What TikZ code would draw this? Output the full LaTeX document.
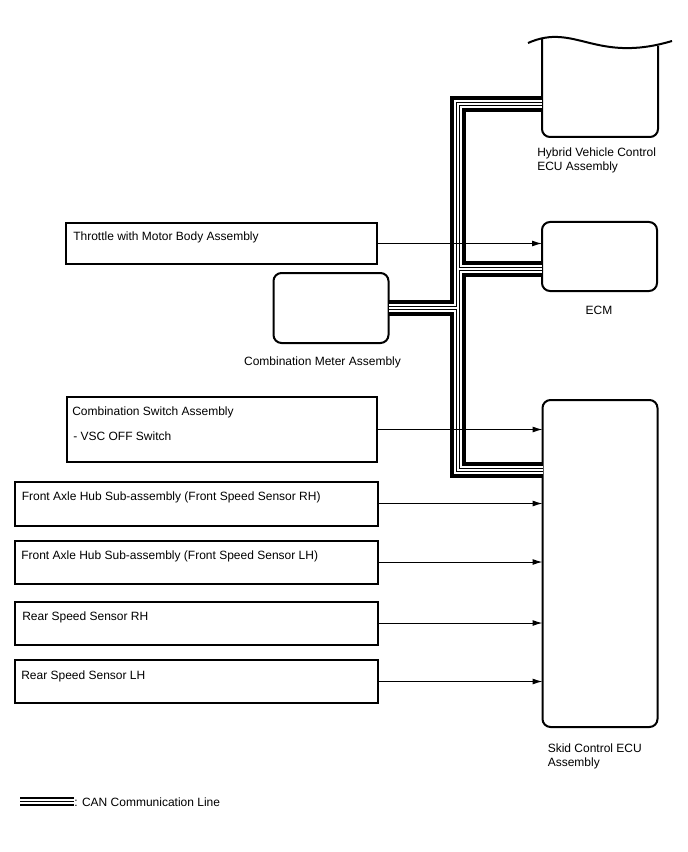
\documentclass[tikz,border=0pt]{standalone}
\usepackage{fontspec}
\setmainfont{Liberation Sans}
\usetikzlibrary{arrows.meta}

\tikzset{
  part/.style 2 args={draw, line width=1.5pt, minimum width=#1*0.75pt, minimum height=#2*0.75pt,
    inner sep=0pt, outer sep=0pt, anchor=north west},
  ecu/.style 2 args={part={#1}{#2}, rounded corners=6pt},
  txt/.style={font=\fontsize{9}{10.4}\selectfont, inner sep=0pt, anchor=base west},
  sig/.style={line width=0.75pt, -{Latex[length=7.5pt,width=4.5pt]}},
  canA/.style={line width=12pt},
  canB/.style={line width=6pt, white},
  canC/.style={line width=3.6pt},
  canD/.style={line width=1.6pt, white},
  keyA/.style={line width=7pt},
  keyB/.style={line width=4pt, white},
  keyC/.style={line width=1.3pt}
}

\begin{document}
\begin{tikzpicture}[x=0.75pt,y=0.75pt,yscale=-1,xscale=1]
        \useasboundingbox (0,0) rectangle (688,852);

        %Shape: Hybrid Vehicle Control ECU (cut off at the top)
        \draw [line width=1.5pt] (528,43) .. controls (575,22) and (595,64) .. (672,41) ;
        \draw [line width=1.5pt, rounded corners=6pt] (542,38.5) -- (542,137) -- (658,137) -- (658,46) ;
        \coordinate (hvcan) at (542,104);
        % Text Node
        \node [txt, align=left] (hvlbl) at (537,170.5) {Hybrid Vehicle Control\\ECU Assembly};

        %Shape: ECM
        \node [ecu={115}{69}] (ecm) at (542,222) {};
        \coordinate (ecmcan) at (542,269);
        % Text Node
        \node [txt, anchor=base] (ecmlbl) at (599,314.5) {ECM};

        %Shape: Combination Meter
        \node [ecu={115}{70}] (meter) at (273.5,273) {};
        % Text Node
        \node [txt, anchor=base] (meterlbl) at (322.5,365) {Combination Meter Assembly};

        %Shape: Skid Control ECU
        \node [ecu={115}{327}] (skid) at (542.5,400) {};
        % Text Node
        \node [txt, align=left] (skidlbl) at (547.5,766) {Skid Control ECU\\Assembly};

        %Shape: Rectangles of the sensors and switches
        \node [part={311}{40}] (throttle) at (65.5,223.5) {};
        \node [part={310}{65}] (combsw) at (66.5,397) {};
        \node [part={363}{44}] (frontrh) at (15,481.5) {};
        \node [part={363}{43}] (frontlh) at (15,540.5) {};
        \node [part={363}{43}] (rearrh) at (15,601.5) {};
        \node [part={363}{43}] (rearlh) at (15,660) {};

        % Text Node
        \node [txt] (throttlelbl) at (73,240.5) {Throttle with Motor Body Assembly};
        \node [txt] (combswlbl) at (72,415.5) {Combination Switch Assembly};
        \node [txt] (vsclbl) at (73,440.5) {- VSC OFF Switch};
        \node [txt] (frontrhlbl) at (21.5,500) {Front Axle Hub Sub-assembly (Front Speed Sensor RH)};
        \node [txt] (frontlhlbl) at (21,559.5) {Front Axle Hub Sub-assembly (Front Speed Sensor LH)};
        \node [txt] (rearrhlbl) at (22,620) {Rear Speed Sensor RH};
        \node [txt] (rearlhlbl) at (21,679.5) {Rear Speed Sensor LH};

        %CAN lines, drawn layer by layer so that the branches join
        \coordinate (bustop) at (458,104);
        \coordinate (busbot) at (458,470);
        \foreach \lay in {canA,canB,canC,canD}{
          \draw [\lay] (hvcan) -- (bustop) -- (busbot) -- (busbot -| skid.west) ;
          \draw [\lay] (ecmcan) -- (ecmcan -| bustop) ;
          \draw [\lay] (meter.east) -- (meter.east -| bustop) ;
        }

        %Straight Lines: signal arrows
        \draw [sig] (throttle.east) -- (throttle.east -| ecm.west) ;
        \draw [sig] (combsw.east) -- (combsw.east -| skid.west) ;
        \draw [sig] (frontrh.east) -- (frontrh.east -| skid.west) ;
        \draw [sig] (frontlh.east) -- (frontlh.east -| skid.west) ;
        \draw [sig] (rearrh.east) -- (rearrh.east -| skid.west) ;
        \draw [sig] (rearlh.east) -- (rearlh.east -| skid.west) ;

        %Legend
        \coordinate (keyl) at (20,801.5);
        \coordinate (keyr) at (74,801.5);
        \foreach \lay in {keyA,keyB,keyC}{
          \draw [\lay] (keyl) -- (keyr) ;
        }
        % Text Node
        \node [txt] (keylbl) at (74,806) {: CAN Communication Line};

\end{tikzpicture}
\end{document}
